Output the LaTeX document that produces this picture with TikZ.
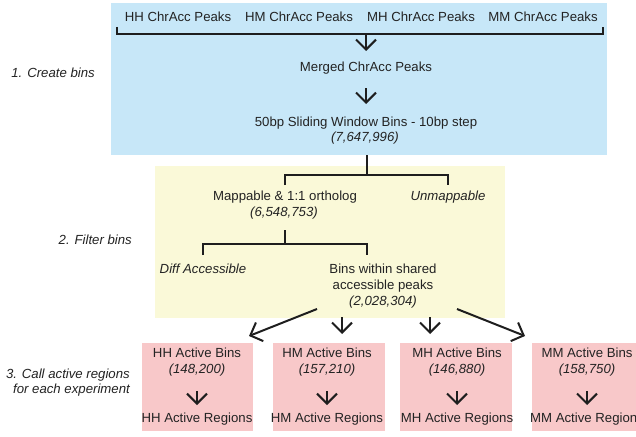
\documentclass[tikz,border=0pt]{standalone}
\usepackage{fontspec}
\setmainfont{Liberation Sans}
\usetikzlibrary{arrows.meta}
\definecolor{bluebg}{RGB}{199,231,248}
\definecolor{yellowbg}{RGB}{250,249,216}
\definecolor{pinkbg}{RGB}{248,200,201}
\definecolor{ink}{RGB}{30,30,30}
\definecolor{txt}{RGB}{35,35,35}
\begin{document}
\begin{tikzpicture}[x=1pt,y=-1pt,
  every node/.style={font=\fontsize{13.2}{15}\selectfont, text=txt, inner sep=0pt},
  cnt/.style={font=\fontsize{13.2}{15}\selectfont\itshape},
  panel/.style={fill=#1, draw=none, inner sep=0pt},
  tree/.style={draw=ink, line width=1.7pt},
  flow/.style={draw=ink, line width=2pt, -{Straight Barb[length=10pt,width=20pt]}}
]
\useasboundingbox (0,0) rectangle (636,436);
% panels
\node[panel=bluebg, minimum width=496pt, minimum height=152pt] (blue) at (359,79) {};
\node[panel=yellowbg, minimum width=350pt, minimum height=152pt] (yellow) at (330,242) {};
\node[panel=pinkbg, minimum width=111pt, minimum height=88pt] (p1) at (197.5,387) {};
\node[panel=pinkbg, minimum width=112pt, minimum height=88pt] (p2) at (329,387) {};
\node[panel=pinkbg, minimum width=112pt, minimum height=88pt] (p3) at (456,387) {};
\node[panel=pinkbg, minimum width=112pt, minimum height=88pt] (p4) at (588,387) {};

% left labels
\node[cnt, anchor=east] (l1) at (95,73) {1. Create bins};
\node[cnt, anchor=east] (l2) at (132,240) {2. Filter bins};
\node[cnt, anchor=east] (l3a) at (130,375) {3. Call active regions};
\node[cnt, anchor=east] (l3b) at (130,390) {for each experiment};

% stage 1
\node (hh) at (178,17) {HH ChrAcc Peaks};
\node (hm) at (299,17) {HM ChrAcc Peaks};
\node (mh) at (421,17) {MH ChrAcc Peaks};
\node (mm) at (543,17) {MM ChrAcc Peaks};
\coordinate (bl) at (117,27);
\coordinate (br) at (603,27);
\draw[tree] (bl) -- ++(0,7) -- ([yshift=-7pt]br) -- (br);
\coordinate (a1s) at (366,34);
\coordinate (a1e) at (366,51);
\draw[flow] (a1s) -- (a1e);
\node (merged) at (366,68) {Merged ChrAcc Peaks};
\coordinate (a2s) at (366,88);
\coordinate (a2e) at (366,104);
\draw[flow] (a2s) -- (a2e);
\node (bins) at (366,123) {50bp Sliding Window Bins - 10bp step};
\node[cnt] (binsn) at (365,138) {(7,647,996)};

% stage 2
\node (map) at (285,197) {Mappable \& 1:1 ortholog};
\node[cnt] (mapn) at (284,213) {(6,548,753)};
\node[cnt] (unmap) at (448,197) {Unmappable};
\coordinate (t1top) at (367,155);
\draw[tree] (t1top) -- (367,175);
\draw[tree] (285,185) -- (285,175) -- (448,175) -- (448,185);
\node[cnt] (diff) at (203,269) {Diff Accessible};
\node (sh1) at (383,269) {Bins within shared};
\node (sh2) at (383,286) {accessible peaks};
\node[cnt] (shn) at (383,302) {(2,028,304)};
\draw[tree] (285,230) -- (285,244);
\draw[tree] (203,255) -- (203,244) -- (367,244) -- (367,255);

% arrows to stage 3
\coordinate (d1s) at (317,309);
\coordinate (d1e) at (249,336);
\coordinate (d2s) at (342,317);
\coordinate (d2e) at (342,334);
\coordinate (d3s) at (430,317);
\coordinate (d3e) at (430,334);
\coordinate (d4s) at (457,309);
\coordinate (d4e) at (525,336);
\draw[flow] (d1s) -- (d1e);
\draw[flow] (d2s) -- (d2e);
\draw[flow] (d3s) -- (d3e);
\draw[flow] (d4s) -- (d4e);

% stage 3
\foreach \n/\x/\lab/\num in {1/197/HH/{148,200}, 2/327/HM/{157,210}, 3/457/MH/{146,880}, 4/587/MM/{158,750}}{
  \node (b\n) at (\x,353) {\lab\ Active Bins};
  \node[cnt] (bn\n) at (\x,370) {(\num)};
  \coordinate (bs\n) at (\x,391);
  \coordinate (be\n) at (\x,405);
  \draw[flow] (bs\n) -- (be\n);
  \node (r\n) at (\x,419) {\lab\ Active Regions};
}
\end{tikzpicture}
\end{document}
